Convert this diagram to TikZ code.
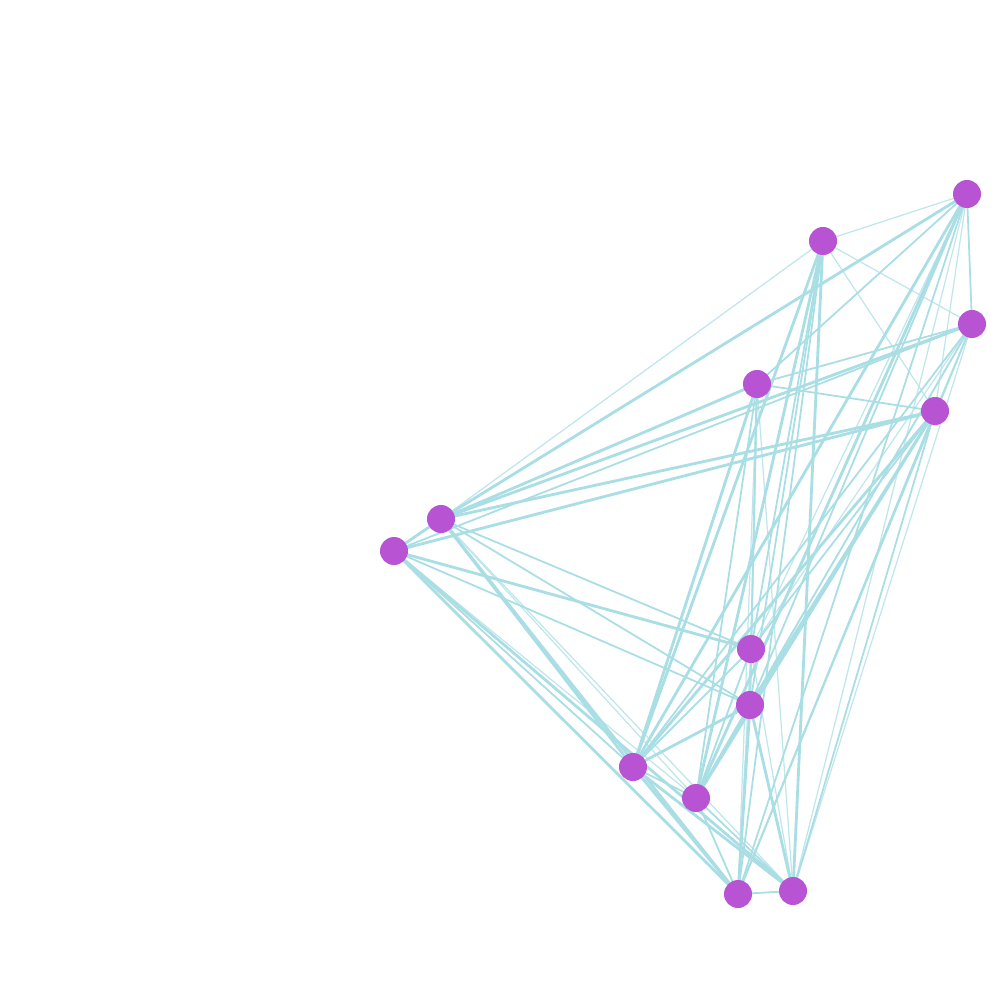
\documentclass[tikz,border=0pt]{standalone}
\usepackage{tikz}
\usepackage{xcolor}
\definecolor{netline}{RGB}{168,222,228}
\definecolor{netdot}{RGB}{184,84,212}
\tikzset{
  edgethick/.style={line width=0.8pt, netline},
  edgemid/.style={line width=0.5pt, netline},
  edgethin/.style={line width=0.35pt, netline!75},
  vertex/.style={circle, fill=netdot, inner sep=0pt, minimum size=0.28cm},
}
\begin{document}
\begin{tikzpicture}[x=0.01cm,y=-0.01cm]
\useasboundingbox (0,0) rectangle (1000,1000);
\coordinate (a) at (967,194);
\coordinate (b) at (823,241);
\coordinate (c) at (972,324);
\coordinate (d) at (757,384);
\coordinate (e) at (935,411);
\coordinate (f) at (441,519);
\coordinate (g) at (394,551);
\coordinate (h) at (751,649);
\coordinate (i) at (750,705);
\coordinate (j) at (633,767);
\coordinate (k) at (696,798);
\coordinate (l) at (738,894);
\coordinate (m) at (793,891);
% thin ones
\draw[edgethin] (a) -- (b);
\draw[edgethin] (b) -- (c);
\draw[edgethin] (b) -- (e);
\draw[edgethin] (a) -- (m);
\draw[edgethin] (c) -- (m);
\draw[edgethin] (c) -- (h);
\draw[edgethin] (c) -- (i);
\draw[edgethin] (d) -- (l);
\draw[edgethin] (d) -- (m);
\draw[edgethin] (e) -- (c);
\draw[edgethin] (a) -- (e);
\draw[edgethin] (h) -- (l);
\draw[edgethin] (h) -- (m);
\draw[edgethin] (f) -- (m);
\draw[edgethin] (f) -- (k);
\draw[edgethin] (g) -- (k);
\draw[edgethin] (b) -- (f);
\draw[edgethin] (a) -- (h);
% middle ones
\draw[edgemid] (a) -- (c);
\draw[edgemid] (a) -- (i);
\draw[edgemid] (a) -- (l);
\draw[edgemid] (b) -- (h);
\draw[edgemid] (b) -- (i);
\draw[edgemid] (b) -- (l);
\draw[edgemid] (c) -- (d);
\draw[edgemid] (c) -- (g);
\draw[edgemid] (c) -- (j);
\draw[edgemid] (c) -- (k);
\draw[edgemid] (c) -- (l);
\draw[edgemid] (d) -- (e);
\draw[edgemid] (d) -- (h);
\draw[edgemid] (d) -- (i);
\draw[edgemid] (d) -- (k);
\draw[edgemid] (e) -- (h);
\draw[edgemid] (e) -- (l);
\draw[edgemid] (e) -- (m);
\draw[edgemid] (f) -- (h);
\draw[edgemid] (f) -- (i);
\draw[edgemid] (g) -- (i);
\draw[edgemid] (g) -- (j);
\draw[edgemid] (h) -- (j);
\draw[edgemid] (h) -- (k);
\draw[edgemid] (h) -- (i);
\draw[edgemid] (k) -- (l);
\draw[edgemid] (k) -- (m);
\draw[edgemid] (l) -- (m);
\draw[edgemid] (j) -- (k);
\draw[edgemid] (a) -- (d);
% thick ones
\draw[edgethick] (a) -- (f);
\draw[edgethick] (a) -- (j);
\draw[edgethick] (a) -- (k);
\draw[edgethick] (e) -- (f);
\draw[edgethick] (e) -- (g);
\draw[edgethick] (e) -- (j);
\draw[edgethick] (e) -- (k);
\draw[edgethick] (e) -- (i);
\draw[edgethick] (d) -- (j);
\draw[edgethick] (d) -- (f);
\draw[edgethick] (b) -- (j);
\draw[edgethick] (b) -- (k);
\draw[edgethick] (b) -- (m);
\draw[edgethick] (f) -- (l);
\draw[edgethick] (f) -- (j);
\draw[edgethick] (g) -- (l);
\draw[edgethick] (g) -- (m);
\draw[edgethick] (g) -- (h);
\draw[edgethick] (j) -- (i);
\draw[edgethick] (k) -- (i);
\draw[edgethick] (i) -- (l);
\draw[edgethick] (i) -- (m);
\draw[edgethick] (f) -- (g);
\draw[edgethick] (j) -- (l);
\draw[edgethick] (j) -- (m);
\draw[edgethick] (c) -- (f);
% dots on top
\node[vertex] (na) at (a) {};
\node[vertex] (nb) at (b) {};
\node[vertex] (nc) at (c) {};
\node[vertex] (nd) at (d) {};
\node[vertex] (ne) at (e) {};
\node[vertex] (nf) at (f) {};
\node[vertex] (ng) at (g) {};
\node[vertex] (nh) at (h) {};
\node[vertex] (ni) at (i) {};
\node[vertex] (nj) at (j) {};
\node[vertex] (nk) at (k) {};
\node[vertex] (nl) at (l) {};
\node[vertex] (nm) at (m) {};
\end{tikzpicture}
\end{document}
